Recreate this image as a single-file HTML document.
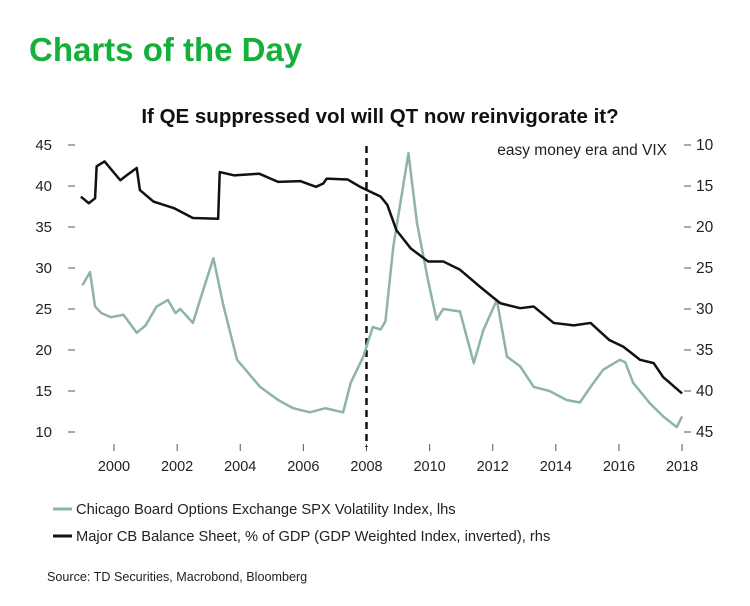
<!DOCTYPE html>
<html><head><meta charset="utf-8"><style>
body{margin:0;background:#fff;font-family:"Liberation Sans",Arial,sans-serif;}
svg text{font-family:"Liberation Sans",Arial,sans-serif;}
</style></head><body>
<svg width="750" height="601" viewBox="0 0 750 601" id="chart">
<text x="29" y="61" font-size="33" font-weight="bold" fill="#15b03a">Charts of the Day</text>
<text x="380" y="123" font-size="20.5" font-weight="bold" text-anchor="middle" fill="#111">If QE suppressed vol will QT now reinvigorate it?</text>
<text x="667" y="155" font-size="15.5" text-anchor="end" fill="#222">easy money era and VIX</text>
<g id="axes"></g>
<g id="series"></g>
<line x1="53" y1="509" x2="72" y2="509" stroke="#8fb3a8" stroke-width="3"/>
<text x="76" y="514" font-size="14.7" fill="#222">Chicago Board Options Exchange SPX Volatility Index, lhs</text>
<line x1="53" y1="536" x2="72" y2="536" stroke="#111" stroke-width="3"/>
<text x="76" y="541" font-size="14.7" fill="#222">Major CB Balance Sheet, % of GDP (GDP Weighted Index, inverted), rhs</text>
<text x="47" y="581" font-size="12.6" fill="#222">Source: TD Securities, Macrobond, Bloomberg</text>
</svg>
<script>
const vixYears=[1999.0,1999.24,1999.4,1999.6,1999.9,2000.3,2000.72,2001.0,2001.35,2001.71,2001.95,2002.1,2002.5,2002.8,2003.15,2003.45,2003.9,2004.63,2005.2,2005.68,2006.2,2006.7,2007.26,2007.5,2007.9,2008.2,2008.45,2008.6,2008.85,2009.33,2009.6,2009.95,2010.22,2010.43,2010.96,2011.4,2011.7,2012.13,2012.45,2012.87,2013.3,2013.8,2014.34,2014.76,2015.1,2015.5,2016.03,2016.2,2016.45,2016.98,2017.4,2017.83,2018.0];
const vixValues=[27.9,29.5,25.3,24.5,24.0,24.3,22.1,23.0,25.3,26.1,24.5,25.0,23.3,27.0,31.2,25.7,18.8,15.5,13.9,12.9,12.4,12.9,12.4,16.0,19.2,22.8,22.5,23.5,32.6,44.0,35.5,28.5,23.7,25.0,24.7,18.4,22.4,26.1,19.2,18.0,15.5,15.0,13.9,13.6,15.5,17.6,18.8,18.5,16.0,13.5,11.9,10.6,11.9];
const cbYears=[1998.95,1999.2,1999.4,1999.45,1999.7,2000.2,2000.4,2000.72,2000.82,2001.25,2001.9,2002.5,2003.3,2003.35,2003.8,2004.6,2005.2,2005.9,2006.4,2006.63,2006.74,2007.4,2007.8,2008.45,2008.66,2008.95,2009.4,2009.95,2010.43,2010.96,2011.6,2012.24,2012.87,2013.3,2013.93,2014.57,2015.1,2015.7,2016.14,2016.67,2017.1,2017.4,2018.0];
const cbValues=[16.3,17.1,16.5,12.6,12.0,14.3,13.7,12.8,15.5,16.9,17.7,18.9,19.0,13.3,13.7,13.5,14.5,14.4,15.1,14.7,14.1,14.2,15.1,16.3,17.3,20.4,22.6,24.2,24.2,25.2,27.3,29.3,29.9,29.7,31.7,32.0,31.7,33.8,34.6,36.2,36.6,38.3,40.3];
const leftTicks=[45,40,35,30,25,20,15,10];
const rightTicks=[10,15,20,25,30,35,40,45];
const xTicks=[2000,2002,2004,2006,2008,2010,2012,2014,2016,2018];
const NS="http://www.w3.org/2000/svg";
const X=y=>114+(y-2000)*31.56;
const YL=v=>145+(45-v)*8.2;
const YR=v=>145+(v-10)*8.2;
const axes=document.getElementById('axes'),series=document.getElementById('series');
function mk(tag,attrs,parent){const e=document.createElementNS(NS,tag);for(const k in attrs)e.setAttribute(k,attrs[k]);parent.appendChild(e);return e;}
leftTicks.forEach(v=>{
 const l=mk('line',{x1:68,x2:75,y1:YL(v),y2:YL(v),stroke:'#555','stroke-width':1},axes);
 
 
 const t=mk('text',{x:52,y:YL(v)+5,'font-size':15,'text-anchor':'end',fill:'#222'},axes);t.textContent=v;
 
 
});
rightTicks.forEach(v=>{
 const l=mk('line',{x1:684,x2:691,y1:YR(v),y2:YR(v),stroke:'#555','stroke-width':1},axes);
 
 
 const t=mk('text',{x:696,y:YR(v)+5,'font-size':15.5,fill:'#222'},axes);t.textContent=v;
 
 
});
xTicks.forEach(v=>{
 const l=mk('line',{x1:X(v),x2:X(v),y1:444,y2:451,stroke:'#555','stroke-width':1},axes);
 
 
 const t=mk('text',{x:X(v),y:471,'font-size':14.5,'text-anchor':'middle',fill:'#222'},axes);t.textContent=v;
 
 
});
const d=mk('line',{x1:X(2008),x2:X(2008),y1:146,y2:447,stroke:'#111','stroke-width':2.5,'stroke-dasharray':'7,5'},series);


const p1=mk('polyline',{points:vixYears.map((y,i)=>X(y)+','+YL(vixValues[i])).join(' '),fill:'none',stroke:'#8fb3a8','stroke-width':2.5,'stroke-linejoin':'round'},series);


const p2=mk('polyline',{points:cbYears.map((y,i)=>X(y)+','+YR(cbValues[i])).join(' '),fill:'none',stroke:'#111','stroke-width':2.5,'stroke-linejoin':'round'},series);


</script>
</body></html>
